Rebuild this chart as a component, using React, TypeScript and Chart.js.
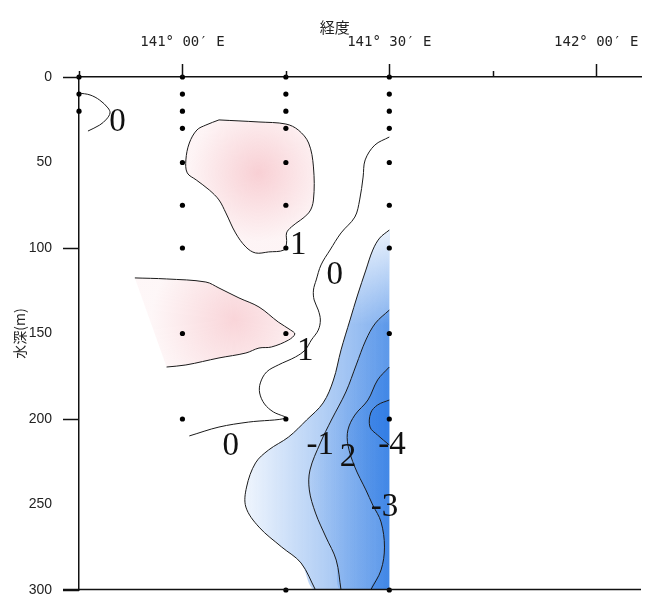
import React, { useEffect, useRef } from 'react';
import { Chart, registerables } from 'chart.js';

Chart.register(...registerables);

// x: minutes of longitude east of 140°E, y: depth (m)
const lonTicks = [45, 60, 75, 90, 105, 120];
const majorLonTicks = [60, 90, 120];
const lonTickLabels: Record<number, string> = { 60: '141° 00′ E', 90: '141° 30′ E', 120: '142° 00′ E' };
const depthTicks = [0, 50, 100, 150, 200, 250, 300];
const depthMajorTicks = [0, 100, 200, 300];

const stationLons = [45, 60, 75, 90];
const stationDepths = [
  [0, 10, 20],
  [0, 10, 20, 30, 50, 75, 100, 150, 200],
  [0, 10, 20, 30, 50, 75, 100, 150, 200, 300],
  [0, 10, 20, 30, 50, 75, 100, 150, 200, 300],
];

const contourA = [[45, 9.4], [46.6, 10.5], [48, 13.5], [49.2, 18.1], [49.5, 21], [49.0, 24.6], [48, 28.1], [46.3, 31.6]];
const contourB = [[65.3, 25.1], [71.1, 26.3], [75.0, 27.5], [76.8, 31.0], [78.3, 38.6], [79.0, 52.6], [79.0, 71.9], [78.3, 79.5], [75.8, 87.7], [75.1, 91.2], [75.1, 97.1], [74.7, 101.2], [72.5, 102.3], [70.6, 102.9], [69.2, 99.4], [67.7, 91.2], [66.3, 79.5], [65.3, 71.9], [63.9, 66.1], [62.0, 60.2], [60.7, 56.1], [60.5, 48.5], [61.0, 38.6], [62.1, 31.0], [63.4, 28.1], [65.3, 25.1]];
const contourC = [[53.1, 117.5], [57.7, 118.1], [63.4, 119.9], [65.3, 123.4], [68.2, 129.2], [71.1, 134.5], [73.9, 143.3], [75.7, 148.0], [76.3, 150.3], [75.4, 153.8], [72.9, 157.9], [71.1, 158.5], [69.2, 161.4], [65.3, 164.3], [60.5, 168.4], [57.7, 169.6]];
const contourD = [[61.0, 209.9], [65.3, 204.7], [69.6, 201.8], [75.0, 199.4], [73.2, 195.9], [71.9, 191.2], [71.2, 184.8], [71.3, 178.9], [72.2, 172.5], [73.9, 168.4], [76.4, 163.7], [77.8, 159.6], [78.7, 153.8], [79.7, 148.0], [80.0, 142.1], [79.7, 136.3], [79.1, 130.4], [79.0, 124.6], [79.4, 118.7], [80.1, 109.9], [81.4, 101.2], [83.0, 91.2], [85.0, 81.9], [85.7, 71.9], [86.2, 58.5], [86.5, 48.5], [87.9, 39.8], [90, 35.1]];
const contourF = [[90, 89.5], [88.6, 94.2], [87.6, 101.2], [86.6, 112.9], [85.4, 127.5], [84.3, 142.1], [83.0, 159.6], [81.9, 177.2], [80.4, 190.6], [78.0, 200.6], [75.4, 210.5], [72.5, 218.1], [70.6, 225.7], [69.3, 239.8], [69.2, 251.5], [71.1, 263.2], [74.4, 274.9], [77.2, 284.2], [79.3, 300]];
const contourG = [[90, 136.3], [88.0, 143.9], [86.6, 153.8], [85.2, 168.4], [83.7, 184.2], [81.6, 200.6], [80.0, 214.0], [78.5, 229.8], [78.4, 241.5], [79.3, 255.0], [80.8, 269.0], [82.3, 282.5], [83.0, 300]];
const contourH = [[90, 169.6], [88.3, 177.2], [86.9, 188.9], [85.0, 197.7], [84.0, 206.4], [84.0, 215.2], [85.0, 228.1], [86.6, 241.5], [87.6, 250.3], [88.8, 260.2], [89.3, 274.9], [88.8, 288.3], [87.3, 300]];
const contourI = [[90, 188.9], [88.3, 191.8], [87.3, 196.5], [87.2, 204.7], [88.3, 209.4], [90, 215.2]];

const labelTexts = ['0', '1', '0', '1', '0', '-1', '2', '-4', '-3'];
const labelLons = [50.6, 76.8, 82.1, 77.8, 67.0, 80.0, 84.0, 90.4, 89.3];
const labelDepths = [25.1, 97.1, 114.6, 159.0, 214.6, 214.0, 221.0, 214.0, 250.3];

const EDGE_LON = 90;
const MAX_DEPTH = 300;

export default function App() {
  const ref = useRef<HTMLCanvasElement>(null);

  useEffect(() => {
    const canvas = ref.current;
    if (!canvas) return;
    const pts = (a: number[][]) => a.map(([x, y]) => ({ x, y }));
    const toEdge = (a: number[][]) => [...pts(a), { x: EDGE_LON, y: MAX_DEPTH }];

    const hGrad = (x0: number, x1: number, rgb: string, a0: number, a1: number) => (c: any) => {
      const chart = c.chart;
      if (!chart.chartArea) return 'rgba(0,0,0,0)';
      const xs = chart.scales.x;
      const g = chart.ctx.createLinearGradient(xs.getPixelForValue(x0), 0, xs.getPixelForValue(x1), 0);
      g.addColorStop(0, `rgba(${rgb},${a0})`);
      g.addColorStop(1, `rgba(${rgb},${a1})`);
      return g;
    };
    const vGrad = (d0: number, d1: number, rgb: string, a0: number, a1: number) => (c: any) => {
      const chart = c.chart;
      if (!chart.chartArea) return 'rgba(0,0,0,0)';
      const ys = chart.scales.y;
      const g = chart.ctx.createLinearGradient(0, ys.getPixelForValue(d0), 0, ys.getPixelForValue(d1));
      g.addColorStop(0, `rgba(${rgb},${a0})`);
      g.addColorStop(1, `rgba(${rgb},${a1})`);
      return g;
    };
    const rGrad = (cx: number, cy: number, rLon: number, rgb: string, a0: number, a1: number) => (c: any) => {
      const chart = c.chart;
      if (!chart.chartArea) return 'rgba(0,0,0,0)';
      const xs = chart.scales.x;
      const ys = chart.scales.y;
      const px = xs.getPixelForValue(cx);
      const py = ys.getPixelForValue(cy);
      const r = xs.getPixelForValue(cx + rLon) - px;
      const g = chart.ctx.createRadialGradient(px, py, 0, px, py, r);
      g.addColorStop(0, `rgba(${rgb},${a0})`);
      g.addColorStop(1, `rgba(${rgb},${a1})`);
      return g;
    };

    const blue = '25,110,225';
    const pink = '240,150,160';

    const fillDs = (data: any[], bg: any, order: number) => ({
      data, showLine: true, fill: 'shape', borderWidth: 0, borderColor: 'rgba(0,0,0,0)',
      backgroundColor: bg, pointRadius: 0, tension: 0.35, order,
    });
    const lineDs = (a: number[][]) => ({
      data: pts(a), showLine: true, fill: false, borderWidth: 1, borderColor: '#1a1a1a',
      pointRadius: 0, tension: 0.35, order: 2,
    });

    const dots: { x: number; y: number }[] = [];
    stationLons.forEach((lon, i) => stationDepths[i].forEach((d) => dots.push({ x: lon, y: d })));

    const decor = {
      id: 'decor',
      afterDatasetsDraw(chart: any) {
        const { ctx, scales } = chart;
        const xs = scales.x;
        const ys = scales.y;
        ctx.save();
        ctx.fillStyle = '#111';
        ctx.font = '33px "Liberation Serif"';
        ctx.textAlign = 'center';
        ctx.textBaseline = 'alphabetic';
        labelTexts.forEach((t, i) => {
          ctx.fillText(t, xs.getPixelForValue(labelLons[i]), ys.getPixelForValue(labelDepths[i]) + 11);
        });
        ctx.restore();
      },
      afterDraw(chart: any) {
        const { ctx, scales, chartArea } = chart;
        const xs = scales.x;
        const ys = scales.y;
        ctx.save();
        ctx.strokeStyle = '#111';
        ctx.lineWidth = 1.5;
        const top = ys.getPixelForValue(0);
        lonTicks.forEach((v) => {
          const px = Math.round(xs.getPixelForValue(v)) + 0.5;
          const len = majorLonTicks.includes(v) ? 13 : 6;
          ctx.beginPath();
          ctx.moveTo(px, top);
          ctx.lineTo(px, top - len);
          ctx.stroke();
        });
        depthMajorTicks.forEach((d) => {
          const py = Math.round(ys.getPixelForValue(d)) + 0.5;
          ctx.beginPath();
          ctx.moveTo(chartArea.left - 16, py);
          ctx.lineTo(chartArea.left, py);
          ctx.stroke();
        });
        const bottom = Math.round(ys.getPixelForValue(MAX_DEPTH)) - 0.5;
        ctx.beginPath();
        ctx.moveTo(chartArea.left - 16, bottom);
        ctx.lineTo(chartArea.right, bottom);
        ctx.stroke();
        ctx.fillStyle = '#222';
        ctx.font = '15px "Noto Sans CJK JP"';
        ctx.textAlign = 'center';
        ctx.textBaseline = 'middle';
        ctx.fillText('経度', xs.getPixelForValue(82.1), 27);
        ctx.restore();
      },
    };

    const chart = new Chart(canvas, {
      type: 'scatter',
      data: {
        datasets: [
          { data: dots, pointRadius: 2.6, pointBackgroundColor: '#000', pointBorderWidth: 0, showLine: false, order: 0, clip: false } as any,
          lineDs(contourA), lineDs(contourB), lineDs(contourC), lineDs(contourD),
          lineDs(contourF), lineDs(contourG), lineDs(contourH), lineDs(contourI),
          fillDs(toEdge(contourF), vGrad(88, 145, '255,255,255', 0.85, 0), 9),
          fillDs(pts(contourI), `rgba(${blue},0.35)`, 10),
          fillDs(toEdge(contourH), hGrad(83, 90, blue, 0.2, 0.4), 11),
          fillDs(toEdge(contourG), hGrad(77, 90, blue, 0.05, 0.35), 12),
          fillDs(toEdge(contourF), hGrad(66, 90, blue, 0, 0.55), 13),
          fillDs(pts(contourB), rGrad(71, 56, 10, pink, 0.45, 0.1), 15),
          fillDs(pts(contourC), rGrad(67.5, 142, 12, pink, 0.4, 0.08), 16),
        ] as any,
      },
      options: {
        animation: false,
        responsive: false,
        events: [],
        layout: { padding: { top: 0, left: 0, right: 0, bottom: 5 } },
        plugins: { legend: { display: false }, tooltip: { enabled: false } },
        scales: {
          x: {
            type: 'linear',
            position: 'top',
            min: 45,
            max: 126.5,
            afterBuildTicks: (s: any) => { s.ticks = lonTicks.map((v) => ({ value: v })); },
            afterFit: (s: any) => { s.height = 77; s.paddingLeft = 0; s.paddingRight = 0; },
            grid: { display: false, drawTicks: false },
            border: { display: true, color: '#111', width: 1.5 },
            ticks: {
              padding: 26,
              autoSkip: false,
              maxRotation: 0,
              color: '#222',
              font: { family: 'DejaVu Sans Mono', size: 14 },
              callback: (v: any) => lonTickLabels[Number(v)] || '',
            },
          },
          y: {
            type: 'linear',
            reverse: true,
            min: 0,
            max: MAX_DEPTH,
            afterBuildTicks: (s: any) => { s.ticks = depthTicks.map((v) => ({ value: v })); },
            afterFit: (s: any) => { s.width = 79; s.paddingTop = 0; s.paddingBottom = 0; },
            grid: { display: false, drawTicks: false },
            border: { display: true, color: '#111', width: 1.5 },
            ticks: {
              padding: 27,
              color: '#222',
              font: { family: 'Liberation Sans', size: 14 },
            },
            title: {
              display: true,
              text: '水深(m)',
              color: '#222',
              font: { family: 'Noto Sans CJK JP', size: 14 },
              padding: { top: 11, bottom: 0 },
            },
          },
        },
      } as any,
      plugins: [decor],
    });
    return () => chart.destroy();
  }, []);

  return (
    <div style={{ position: 'fixed', left: 0, top: 0, width: 645, height: 595, background: '#fff' }}>
      <canvas ref={ref} width={645} height={595} style={{ display: 'block' }} />
    </div>
  );
}
